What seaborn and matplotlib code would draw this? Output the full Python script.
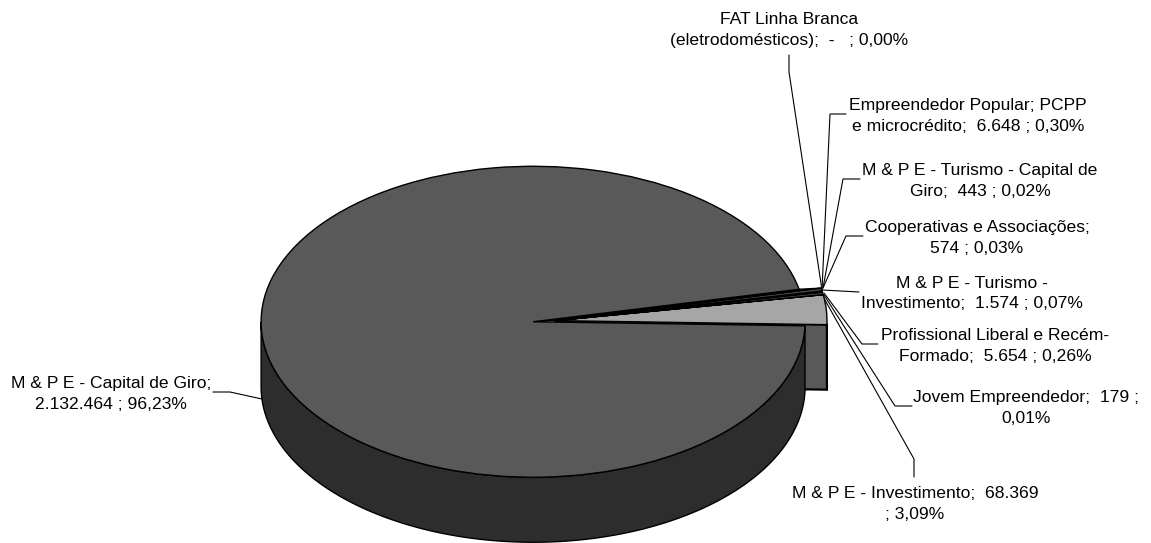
import numpy as np
import matplotlib
matplotlib.use("Agg")
import matplotlib.pyplot as plt
from matplotlib.patches import Polygon
import seaborn as sns

# Credit lines, listed counter-clockwise from the detached wedge
programas = [
    "M & P E - Investimento", "Jovem Empreendedor", "Profissional Liberal",
    "M & P E - Turismo - Investimento", "Cooperativas e Associações",
    "M & P E - Turismo - Capital de Giro", "Empreendedor Popular",
    "FAT Linha Branca", "M & P E - Capital de Giro",
]
valores = [68369, 179, 5654, 1574, 574, 443, 6648, 0, 2132464]
rotulos = [
    "M & P E - Investimento;  68.369\n; 3,09%",
    "Jovem Empreendedor;  179 ;\n0,01%",
    "Profissional Liberal e Recém-\nFormado;  5.654 ; 0,26%",
    "M & P E - Turismo -\nInvestimento;  1.574 ; 0,07%",
    "Cooperativas e Associações;\n574 ; 0,03%",
    "M & P E - Turismo - Capital de\nGiro;  443 ; 0,02%",
    "Empreendedor Popular; PCPP\ne microcrédito;  6.648 ; 0,30%",
    "FAT Linha Branca\n(eletrodomésticos);  -   ; 0,00%",
    "M & P E - Capital de Giro;\n2.132.464 ; 96,23%",
]
cores = ["#a6a6a6", "#3a3a3a", "#4a4a4a", "#2a2a2a", "#3a3a3a",
         "#2a2a2a", "#4a4a4a", "#ffffff", "#595959"]
cor_lateral = "#2d2d2d"
cor_corte = "#595959"

WIDTH, HEIGHT = 1151, 543
RX, RY, DEPTH = 272.0, 155.5, 65.0
K = RX / RY  # vertical stretch that flattens the disc into a tilted ellipse

sns.set_theme(style="white", font="Liberation Sans")
plt.rcParams["text.color"] = "black"

fig = plt.figure(figsize=(WIDTH / 100, HEIGHT / 100), dpi=100, facecolor="white")
ax = fig.add_axes([0, 0, 1, 1])


def ypx(y):
    return -np.asarray(y, dtype=float) * K


# The large slice is pulled away from the rest of the disc
explode = [0, 0, 0, 0, 0, 0, 0, 0, 22]
wedges, _ = ax.pie(
    valores, colors=cores, explode=explode, startangle=-1.5, counterclock=True,
    radius=RX, center=(555, float(ypx(320.6))),
    wedgeprops=dict(edgecolor="black", linewidth=1.0),
)
ax.set_aspect("auto")
ax.set_xlim(0, WIDTH)
ax.set_ylim(ypx(HEIGHT), 0)
ax.set_axis_off()

for w in wedges[:-1]:
    w.set_zorder(5)
main = wedges[-1]
main.set_zorder(4)

depth = DEPTH * K
cx, cy = main.center
r = main.r


def rim(theta, c=(cx, cy)):
    t = np.radians(theta)
    return c[0] + r * np.cos(t), c[1] + r * np.sin(t)


# Outer wall of the large slice, visible along its front half
th = np.linspace(180, main.theta2, 300)
xs, ys = rim(th)
wall = np.column_stack([np.r_[xs, xs[::-1]], np.r_[ys, ys[::-1] - depth]])
ax.add_patch(Polygon(wall, closed=True, facecolor=cor_lateral, edgecolor="black",
                     linewidth=1.0, zorder=3))

# Inner face of the notch behind the small slices
small_c = wedges[6].center
ax.add_patch(Polygon([(cx, cy), rim(main.theta1), rim(main.theta1, small_c), small_c],
                     closed=True, facecolor="#0a0a0a", edgecolor="black",
                     linewidth=1.0, zorder=3.5))

# Cut face of the detached wedge, showing below its lower edge
first = wedges[0]
x0, y0 = first.center
xr, yr = rim(first.theta1, first.center)
face = [(x0, y0), (xr, yr), (xr, yr - depth), (x0, y0 - depth)]
ax.add_patch(Polygon(face, closed=True, facecolor=cor_corte, edgecolor="black",
                     linewidth=1.6, zorder=2))

# Label placement: text centre and the elbow of each leader line
centros = [(915, 504), (1026.5, 408), (995, 346), (972, 293.5), (977, 238),
           (980, 181), (968, 116), (789, 30.5), (111, 394)]
guias = [
    [(914, 477), (914, 459), (825, 300)],
    [(912, 406), (895, 406), (824, 295)],
    [(878, 344), (862, 344), (824, 293)],
    [(859, 292), (822, 290)],
    [(863, 236), (846, 236), (823, 288)],
    [(860, 179), (843, 179), (823, 288)],
    [(846, 114), (830, 114), (822, 290)],
    [(789, 55), (789, 72), (822, 290)],
    [(213, 392), (230, 392), (262, 399)],
]

for texto, (tx, ty), guia in zip(rotulos, centros, guias):
    ax.text(tx, ypx(ty), texto, ha="center", va="center", fontsize=12.6,
            linespacing=1.5, color="black", zorder=8)
    g = np.array(guia, dtype=float)
    ax.plot(g[:, 0], ypx(g[:, 1]), color="black", lw=0.8, zorder=7,
            solid_joinstyle="miter")

fig.savefig("out.png", dpi=100, facecolor="white")
